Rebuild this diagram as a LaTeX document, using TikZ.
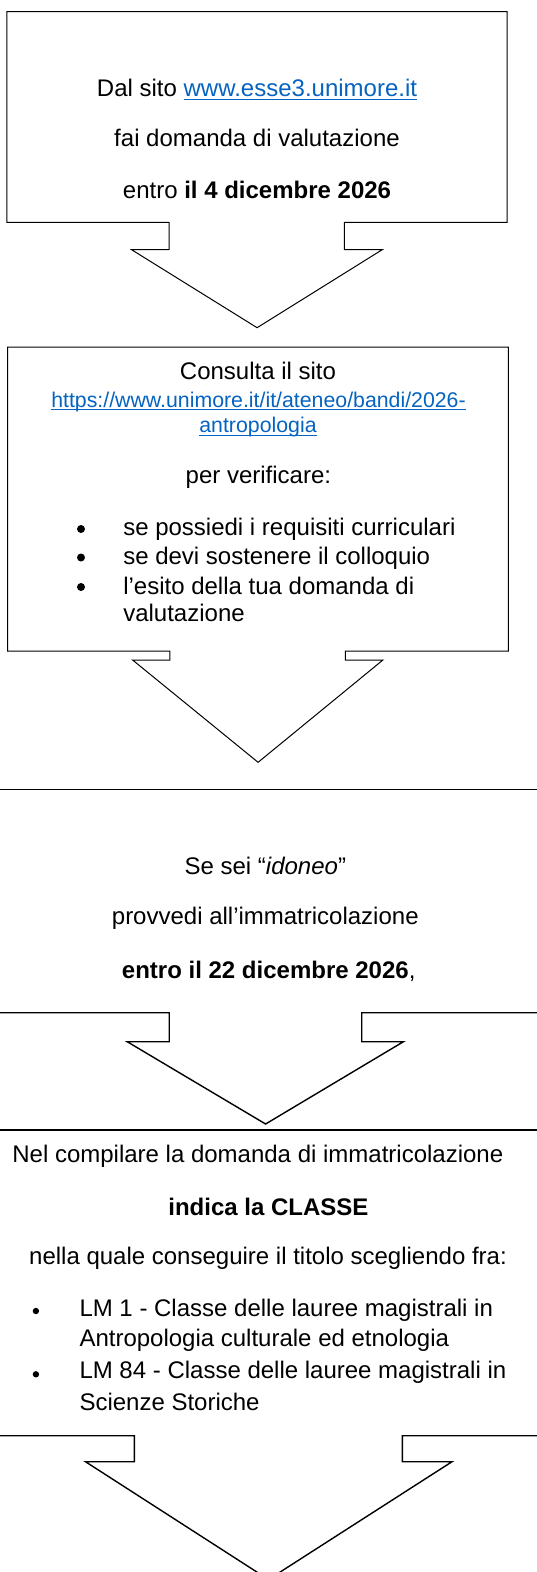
\documentclass[tikz,border=0pt]{standalone}
\usepackage{fontspec}
\setmainfont{Liberation Sans}
\definecolor{linkblue}{RGB}{5,99,193}
\newcommand{\myul}[1]{\setbox0\hbox{#1}\rlap{\rule[-3.1pt]{\wd0}{1.0pt}}\box0}
\begin{document}
\begin{tikzpicture}[x=1pt,y=-1pt,
  thinline/.style={draw=black,line width=1pt,line join=miter},
  thickline/.style={draw=black,line width=1.4pt,line join=miter},
  txt/.style={inner sep=0pt,anchor=base,font=\fontsize{24}{28}\selectfont},
  smalltxt/.style={inner sep=0pt,anchor=base,font=\fontsize{21.3}{25}\selectfont},
  ltxt/.style={txt,anchor=base west},
  linktext/.style={text=linkblue},
  dotbig/.style={circle,fill=black,inner sep=0pt,minimum size=8pt},
  dotsmall/.style={circle,fill=black,inner sep=0pt,minimum size=6.4pt}]
\useasboundingbox (0,0) rectangle (536,1572);
% ---------- box 1 ----------
\draw[thinline] (6.8,11.7) -- (507,11.7) -- (507,222.3) -- (344.3,222.3) -- (344.3,249.7)
  -- (382.2,249.7) -- (257.1,327.7) -- (131.6,249.7) -- (169.2,249.7) -- (169.2,222.3)
  -- (6.8,222.3) -- cycle;
\node[txt] (a1) at (257,96.7) {Dal sito {\color{linkblue}\myul{www.esse3.unimore.it}}};
\node[txt] (a2) at (257,146.7) {fai domanda di valutazione};
\node[txt] (a3) at (257,198.3) {entro \textbf{il 4 dicembre 2026}};
% ---------- box 2 ----------
\draw[thinline] (7.5,347) -- (508.4,347) -- (508.4,651) -- (345.3,651) -- (345.3,660)
  -- (382.9,660) -- (258.1,762.3) -- (132.6,660) -- (169.9,660) -- (169.9,651)
  -- (7.5,651) -- cycle;
\node[txt] (b1) at (258,379) {Consulta il sito};
\node[smalltxt,linktext] (b2) at (258.5,407.3) {\myul{https://www.unimore.it/it/ateneo/bandi/2026-}};
\node[smalltxt,linktext] (b3) at (258,432.7) {\myul{antropologia}};
\node[txt] (b4) at (258.4,483.3) {per verificare:};
\node[dotbig] (bd1) at (81,529) {};
\node[dotbig] (bd2) at (81,557.5) {};
\node[dotbig] (bd3) at (81,587) {};
\node[ltxt] (b5) at (123.1,535.7) {se possiedi i requisiti curriculari};
\node[ltxt] (b6) at (123.1,564.3) {se devi sostenere il colloquio};
\node[ltxt] (b7) at (123.1,594) {l’esito della tua domanda di};
\node[ltxt] (b8) at (123.1,621.7) {valutazione};
% ---------- box 3 ----------
\draw[thickline] (-5,789.3) -- (541,789.3);
\draw[thickline] (-5,1012.7) -- (169.2,1012.7) -- (169.2,1041.7) -- (127.2,1041.7)
  -- (265.6,1124) -- (403.4,1041.7) -- (361.7,1041.7) -- (361.7,1012.7) -- (541,1012.7);
\node[txt] (c1) at (265.3,874) {Se sei “\textit{idoneo}”};
\node[txt] (c2) at (265.3,924) {provvedi all’immatricolazione};
\node[txt] (c3) at (268.7,978.3) {\textbf{entro il 22 dicembre 2026},};
% ---------- box 4 ----------
\draw[thickline] (-5,1130) -- (541,1130);
\draw[thickline] (-5,1435.7) -- (134.4,1435.7) -- (134.4,1461.7) -- (85.5,1461.7)
  -- (268.5,1579.5) -- (452,1461.7) -- (402.4,1461.7) -- (402.4,1435.7) -- (541,1435.7);
\node[txt] (d1) at (257.8,1162.3) {Nel compilare la domanda di immatricolazione};
\node[txt] (d2) at (268.4,1215) {\textbf{indica la CLASSE}};
\node[txt] (d3) at (268,1264.3) {nella quale conseguire il titolo scegliendo fra:};
\node[dotsmall] (dd1) at (35.9,1311) {};
\node[dotsmall] (dd2) at (35.9,1374.3) {};
\node[ltxt] (d4) at (79.3,1316) {LM 1 - Classe delle lauree magistrali in};
\node[ltxt] (d5) at (79.3,1346.7) {Antropologia culturale ed etnologia};
\node[ltxt] (d6) at (79.3,1378.3) {LM 84 - Classe delle lauree magistrali in};
\node[ltxt] (d7) at (79.3,1410) {Scienze Storiche};
\end{tikzpicture}
\end{document}
